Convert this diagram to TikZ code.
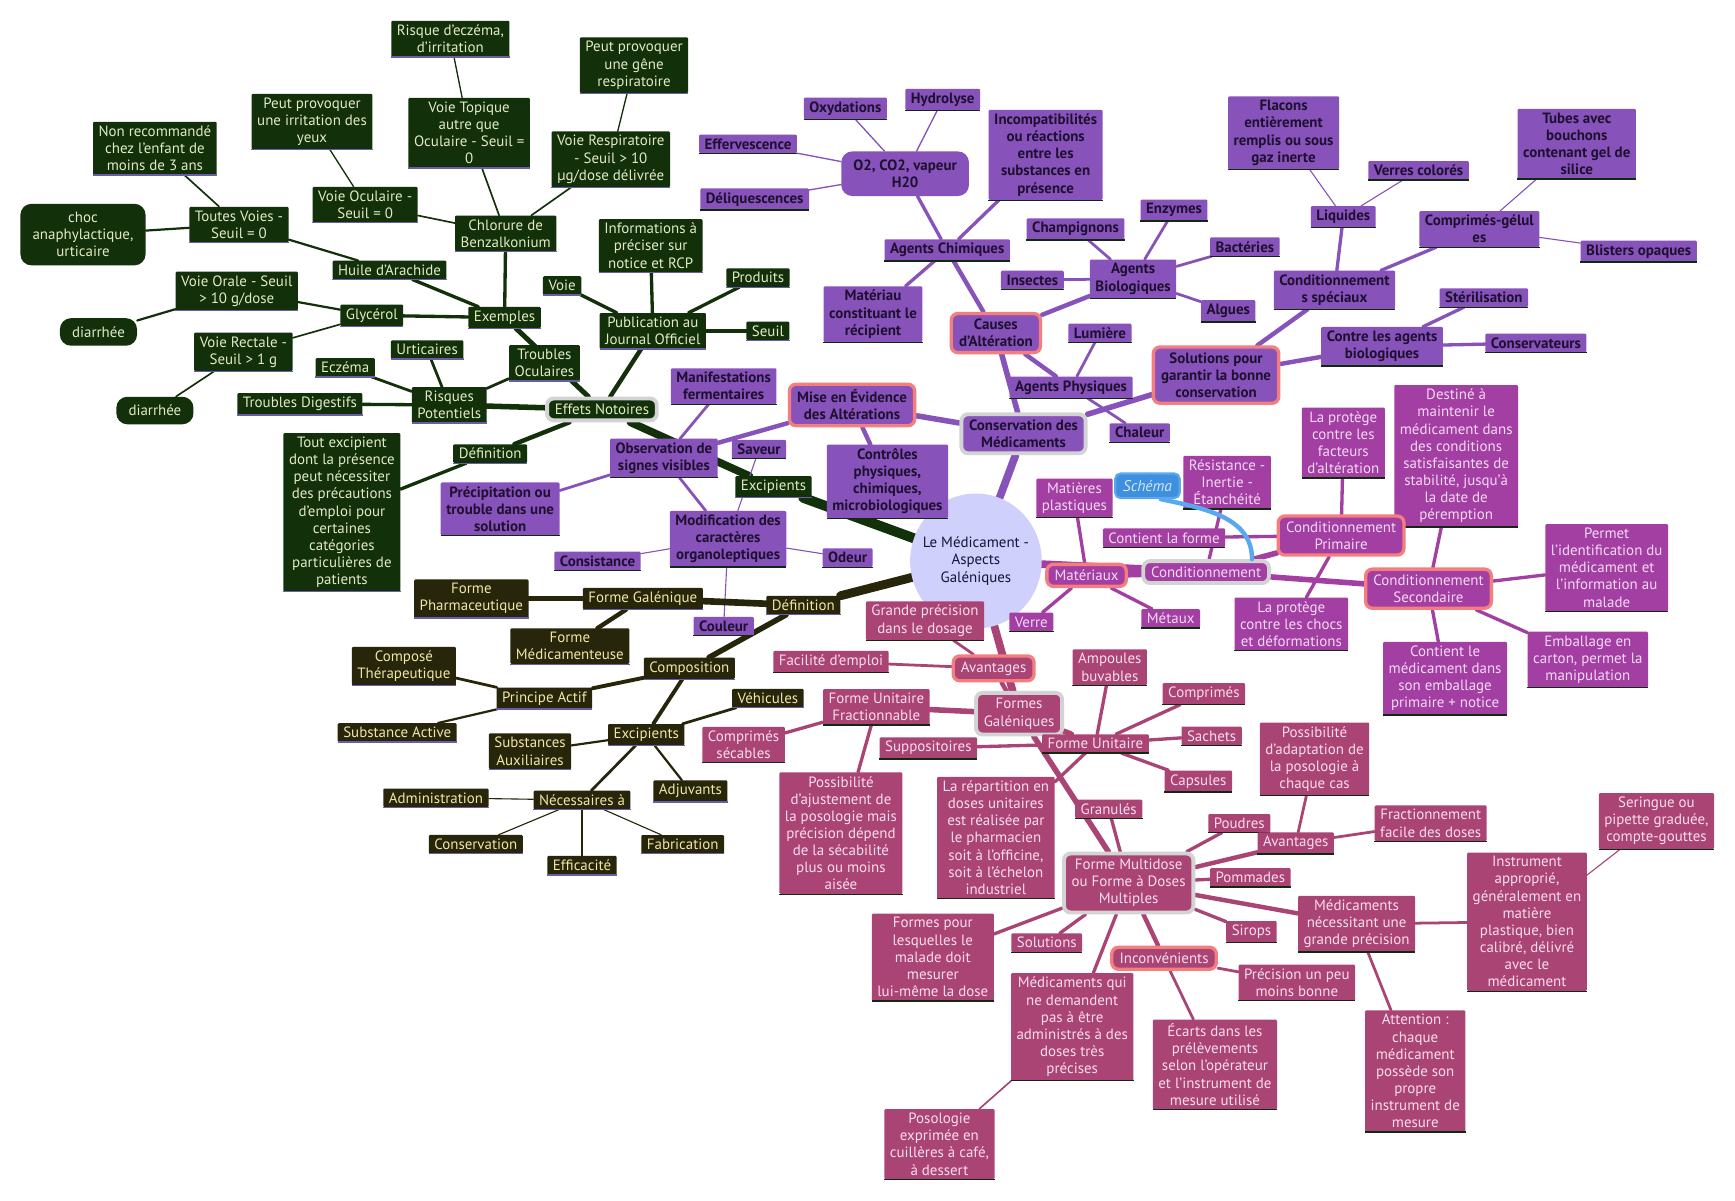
\documentclass[tikz,border=0pt]{standalone}
\usepackage{fontspec}
\setmainfont{PT Sans}
\usepackage{xcolor}
\usepackage{tikz}
\usetikzlibrary{shapes.geometric, backgrounds}
\definecolor{greenfill}{HTML}{12300A}
\definecolor{greentext}{HTML}{E2EAC4}
\definecolor{olivefill}{HTML}{27250A}
\definecolor{olivetext}{HTML}{F0E6A6}
\definecolor{purplefill}{HTML}{8753BA}
\definecolor{purpletext}{HTML}{1E1030}
\definecolor{magentafill}{HTML}{A33EA2}
\definecolor{magentatext}{HTML}{F4DAF4}
\definecolor{raspfill}{HTML}{AA4474}
\definecolor{rasptext}{HTML}{FADDEB}
\definecolor{rootfill}{HTML}{CFD0FB}
\definecolor{roottext}{HTML}{15153A}
\definecolor{salmon}{HTML}{F47E7E}
\definecolor{framegray}{HTML}{D3D3D3}
\definecolor{schemablue}{HTML}{3E8FDD}
\definecolor{schemaedge}{HTML}{5AA8EE}
\definecolor{schematext}{HTML}{D2E6FA}
\definecolor{lavshadow}{HTML}{6A5CA8}
\definecolor{darkshadow}{HTML}{102A10}

\begin{document}
\begin{tikzpicture}[
    x=1pt, y=-1pt,
    font=\fontsize{13.5}{15.5}\selectfont,
    idea/.style={rectangle, rounded corners=1pt, align=center, inner xsep=5pt, inner ysep=3.5pt},
    underline/.style={append after command={\pgfextra{\let\ulnode\tikzlastnode}
        (\ulnode.south west) edge[draw=#1, line width=1.2pt] (\ulnode.south east)}},
    cgreen/.style={idea, fill=greenfill, text=greentext},
    colive/.style={idea, fill=olivefill, text=olivetext},
    cpurple/.style={idea, fill=purplefill, text=purpletext, font=\fontsize{13.5}{15.5}\selectfont\bfseries},
    cmagenta/.style={idea, fill=magentafill, text=magentatext},
    crasp/.style={idea, fill=raspfill, text=rasptext},
    exgreen/.style={cgreen, underline=lavshadow},
    exolive/.style={colive, underline=lavshadow},
    expurple/.style={cpurple, underline=darkshadow},
    exmagenta/.style={cmagenta, underline=darkshadow},
    exrasp/.style={crasp, underline=darkshadow},
    pill/.style={rounded corners=10pt, inner xsep=11pt, inner ysep=7.5pt},
    hot/.style={draw=salmon, line width=3pt, rounded corners=6pt, inner xsep=7pt, inner ysep=5pt},
    major/.style={draw=framegray, line width=3.5pt, rounded corners=6pt, inner xsep=7pt, inner ysep=5pt},
    rootnode/.style={ellipse, fill=rootfill, text=roottext, align=center, inner xsep=-6pt, inner ysep=0pt,
                     minimum width=0pt, minimum height=122pt},
    schemanote/.style={rectangle, rounded corners=5pt, fill=schemablue, draw=schemaedge,
                       line width=2pt, text=schematext, font=\fontsize{14}{16}\selectfont\itshape,
                       inner xsep=7pt, inner ysep=6pt},
    branch/.style={line width=#1pt, line cap=round},
    gline/.style={draw=greenfill},
    oline/.style={draw=olivefill},
    pline/.style={draw=purplefill},
    mline/.style={draw=magentafill},
    rline/.style={draw=raspfill}
  ]
    \useasboundingbox (0,0) rectangle (1568,1085);

    \node[rootnode] (root) at (882,507) {Le Médicament -\\Aspects\\Galéniques};

    % Excipients -- effets notoires
    \node[exgreen] (risk)      at (407,35)  {Risque d'eczéma,\\d'irritation};
    \node[exgreen] (gene)      at (573,59)  {Peut provoquer\\une gêne\\respiratoire};
    \node[exgreen] (irrit)     at (282,110) {Peut provoquer\\une irritation des\\yeux};
    \node[exgreen] (topique)   at (424,120) {Voie Topique\\autre que\\Oculaire - Seuil =\\0};
    \node[exgreen] (respi)     at (552,144) {Voie Respiratoire\\- Seuil > 10\\µg/dose délivrée};
    \node[exgreen] (nonrec)    at (140,134) {Non recommandé\\chez l'enfant de\\moins de 3 ans};
    \node[exgreen] (oculaire)  at (330,185) {Voie Oculaire -\\Seuil = 0};
    \node[exgreen] (chlorure)  at (457,211) {Chlorure de\\Benzalkonium};
    \node[cgreen, pill] (choc) at (75,212)  {choc\\anaphylactique,\\urticaire};
    \node[exgreen] (toutes)    at (216,203) {Toutes Voies -\\Seuil = 0};
    \node[exgreen] (infos)     at (588,222) {Informations à\\préciser sur\\notice et RCP};
    \node[exgreen] (huile)     at (352,244) {Huile d'Arachide};
    \node[exgreen] (voie)      at (508,258) {Voie};
    \node[exgreen] (produits)  at (685,251) {Produits};
    \node[exgreen] (orale)     at (214,263) {Voie Orale - Seuil\\> 10 g/dose};
    \node[exgreen] (glycerol)  at (336,285) {Glycérol};
    \node[exgreen] (exemples)  at (456,287) {Exemples};
    \node[exgreen] (publi)     at (590,299) {Publication au\\Journal Officiel};
    \node[exgreen] (seuil)     at (694,299) {Seuil};
    \node[cgreen, pill] (diarA) at (89,300) {diarrhée};
    \node[exgreen] (rectale)   at (220,318) {Voie Rectale -\\Seuil > 1 g};
    \node[exgreen] (urticaires) at (386,316) {Urticaires};
    \node[exgreen] (troubOc)   at (492,328) {Troubles\\Oculaires};
    \node[exgreen] (eczema)    at (312,332) {Eczéma};
    \node[exgreen] (risques)   at (406,366) {Risques\\Potentiels};
    \node[exgreen] (troubDig)  at (271,365) {Troubles Digestifs};
    \node[cgreen, pill] (diarB) at (140,371) {diarrhée};
    \node[cgreen, major] (effets) at (544,370) {Effets Notoires};
    \node[exgreen] (defEx)     at (443,410) {Définition};
    \node[exgreen] (toutExc)   at (309,463) {Tout excipient\\dont la présence\\peut nécessiter\\des précautions\\d'emploi pour\\certaines\\catégories\\particulières de\\patients};
    \node[exgreen] (excVert)   at (699,440) {Excipients};

    % Conservation des medicaments
    \node[expurple] (oxyd)      at (764,98)  {Oxydations};
    \node[expurple] (hydro)     at (852,90)  {Hydrolyse};
    \node[expurple] (efferv)    at (676,130) {Effervescence};
    \node[cpurple, pill] (otwo) at (818,157) {O2, CO2, vapeur\\H20};
    \node[expurple] (incompat)  at (945,140) {Incompatibilités\\ou réactions\\entre les\\substances en\\présence};
    \node[expurple] (deliq)     at (682,180) {Déliquescences};
    \node[expurple] (chimiques) at (856,226) {Agents Chimiques};
    \node[expurple] (champ)     at (972,207) {Champignons};
    \node[expurple] (enzymes)   at (1061,190) {Enzymes};
    \node[expurple] (flacons)   at (1160,120) {Flacons\\entièrement\\remplis ou sous\\gaz inerte};
    \node[expurple] (verresCol) at (1282,154) {Verres colorés};
    \node[expurple] (tubes)     at (1425,130) {Tubes avec\\bouchons\\contenant gel de\\silice};
    \node[expurple] (liquides)  at (1214,196) {Liquides};
    \node[expurple] (comprGel)  at (1337,207) {Comprimés-gélul\\es};
    \node[expurple] (blisters)  at (1481,227) {Blisters opaques};
    \node[expurple] (bacteries) at (1125,223) {Bactéries};
    \node[expurple] (insectes)  at (933,253) {Insectes};
    \node[expurple] (bio)       at (1024,252) {Agents\\Biologiques};
    \node[expurple] (condSpec)  at (1206,262) {Conditionnement\\s spéciaux};
    \node[expurple] (materiau)  at (789,284) {Matériau\\constituant le\\récipient};
    \node[expurple] (algues)    at (1110,281) {Algues};
    \node[expurple] (steril)    at (1341,269) {Stérilisation};
    \node[cpurple, hot] (causes) at (900,301) {Causes\\d'Altération};
    \node[expurple] (lumiere)   at (994,301) {Lumière};
    \node[expurple] (contre)    at (1249,313) {Contre les agents\\biologiques};
    \node[expurple] (conservateurs) at (1388,310) {Conservateurs};
    \node[cpurple, hot] (solutions) at (1099,339) {Solutions pour\\garantir la bonne\\conservation};
    \node[expurple] (manif)     at (654,349) {Manifestations\\fermentaires};
    \node[cpurple, hot] (mise)  at (770,366) {Mise en Évidence\\des Altérations};
    \node[expurple] (physiques) at (968,350) {Agents Physiques};
    \node[expurple] (chaleur)   at (1030,391) {Chaleur};
    \node[cpurple, major] (conservation) at (925,392) {Conservation des\\Médicaments};
    \node[expurple] (saveur)    at (686,406) {Saveur};
    \node[expurple] (observation) at (600,414) {Observation de\\signes visibles};
    \node[expurple] (controles) at (802,435) {Contrôles\\physiques,\\chimiques,\\microbiologiques};
    \node[expurple] (precip)    at (452,460) {Précipitation ou\\trouble dans une\\solution};
    \node[expurple] (modif)     at (658,487) {Modification des\\caractères\\organoleptiques};
    \node[expurple] (consist)   at (540,507) {Consistance};
    \node[expurple] (odeur)     at (766,504) {Odeur};
    \node[expurple] (couleur)   at (654,566) {Couleur};

    % Definition
    \node[exolive] (formePharma) at (426,541) {Forme\\Pharmaceutique};
    \node[exolive] (formeGal)    at (581,541) {Forme Galénique};
    \node[exolive] (defOl)       at (726,547) {Définition};
    \node[exolive] (formeMed)    at (515,584) {Forme\\Médicamenteuse};
    \node[exolive] (compose)     at (365,602) {Composé\\Thérapeutique};
    \node[exolive] (composition) at (623,604) {Composition};
    \node[exolive] (principe)    at (492,631) {Principe Actif};
    \node[exolive] (vehicules)   at (694,631) {Véhicules};
    \node[exolive] (substAct)    at (359,662) {Substance Active};
    \node[exolive] (excOl)       at (584,664) {Excipients};
    \node[exolive] (substAux)    at (479,679) {Substances\\Auxiliaires};
    \node[exolive] (adjuvants)   at (624,715) {Adjuvants};
    \node[exolive] (admin)       at (394,721) {Administration};
    \node[exolive] (necess)      at (526,723) {Nécessaires à};
    \node[exolive] (conserv)     at (430,763) {Conservation};
    \node[exolive] (fabric)      at (617,763) {Fabrication};
    \node[exolive] (effic)       at (526,782) {Efficacité};

    % Conditionnement
    \node[exmagenta] (protFact)   at (1214,400) {La protège\\contre les\\facteurs\\d'altération};
    \node[exmagenta] (destine)    at (1316,412) {Destiné à\\maintenir le\\médicament dans\\des conditions\\satisfaisantes de\\stabilité, jusqu'à\\la date de\\péremption};
    \node[exmagenta] (resistance) at (1109,436) {Résistance -\\Inertie -\\Étanchéité};
    \node[exmagenta] (plastiques) at (971,450) {Matières\\plastiques};
    \node[exmagenta] (contient)   at (1052,486) {Contient la forme};
    \node[cmagenta, hot] (primaire) at (1212,484) {Conditionnement\\Primaire};
    \node[exmagenta] (permet)     at (1452,513) {Permet\\l'identification du\\médicament et\\l'information au\\malade};
    \node[cmagenta, hot] (materiaux) at (982,520) {Matériaux};
    \node[cmagenta, major] (conditionnement) at (1090,517) {Conditionnement};
    \node[cmagenta, hot] (secondaire) at (1291,532) {Conditionnement\\Secondaire};
    \node[exmagenta] (protChocs)  at (1167,564) {La protège\\contre les chocs\\et déformations};
    \node[exmagenta] (verre)      at (932,562) {Verre};
    \node[exmagenta] (metaux)     at (1058,559) {Métaux};
    \node[exmagenta] (emballage)  at (1435,596) {Emballage en\\carton, permet la\\manipulation};
    \node[exmagenta] (contientMed) at (1306,613) {Contient le\\médicament dans\\son emballage\\primaire + notice};
    \node[schemanote] (schema)    at (1037,439) {Schéma};

    % Formes galeniques
    \node[exrasp] (grande)        at (836,561) {Grande précision\\dans le dosage};
    \node[exrasp] (facilite)      at (751,598) {Facilité d'emploi};
    \node[crasp, hot] (avantagesA) at (898,604) {Avantages};
    \node[exrasp] (ampoules)      at (1003,603) {Ampoules\\buvables};
    \node[exrasp] (comprimes)     at (1088,627) {Comprimés};
    \node[exrasp] (fractionnable) at (792,639) {Forme Unitaire\\Fractionnable};
    \node[crasp, major] (formesGal) at (921,645) {Formes\\Galéniques};
    \node[exrasp] (secables)      at (672,673) {Comprimés\\sécables};
    \node[exrasp] (sachets)       at (1095,665) {Sachets};
    \node[exrasp] (suppos)        at (839,676) {Suppositoires};
    \node[exrasp] (unitaire)      at (990,672) {Forme Unitaire};
    \node[exrasp] (capsules)      at (1083,706) {Capsules};
    \node[exrasp] (ajustement)    at (760,753) {Possibilité\\d'ajustement de\\la posologie mais\\précision dépend\\de la sécabilité\\plus ou moins\\aisée};
    \node[exrasp] (repartition)   at (900,757) {La répartition en\\doses unitaires\\est réalisée par\\le pharmacien\\soit à l'officine,\\soit à l'échelon\\industriel};
    \node[exrasp] (granules)      at (1002,731) {Granulés};
    \node[exrasp] (adaptation)    at (1188,686) {Possibilité\\d'adaptation de\\la posologie à\\chaque cas};
    \node[exrasp] (poudres)       at (1120,744) {Poudres};
    \node[exrasp] (fractFacile)   at (1293,744) {Fractionnement\\facile des doses};
    \node[exrasp] (seringue)      at (1497,742) {Seringue ou\\pipette graduée,\\compte-gouttes};
    \node[exrasp] (avantagesB)    at (1171,762) {Avantages};
    \node[crasp, major] (multidose) at (1020,798) {Forme Multidose\\ou Forme à Doses\\Multiples};
    \node[exrasp] (pommades)      at (1130,793) {Pommades};
    \node[exrasp] (instrument)    at (1380,833) {Instrument\\approprié,\\généralement en\\matière\\plastique, bien\\calibré, délivré\\avec le\\médicament};
    \node[exrasp] (medsPrec)      at (1226,835) {Médicaments\\nécessitant une\\grande précision};
    \node[exrasp] (formesPour)    at (843,865) {Formes pour\\lesquelles le\\malade doit\\mesurer\\lui-même la dose};
    \node[exrasp] (solutionsR)    at (946,852) {Solutions};
    \node[exrasp] (sirops)        at (1131,842) {Sirops};
    \node[crasp, hot] (inconv)    at (1052,866) {Inconvénients};
    \node[exrasp] (precision)     at (1172,888) {Précision un peu\\moins bonne};
    \node[exrasp] (medsQui)       at (969,928) {Médicaments qui\\ne demandent\\pas à être\\administrés à des\\doses très\\précises};
    \node[exrasp] (ecarts)        at (1098,962) {Écarts dans les\\prélèvements\\selon l'opérateur\\et l'instrument de\\mesure utilisé};
    \node[exrasp] (attention)     at (1279,968) {Attention :\\chaque\\médicament\\possède son\\propre\\instrument de\\mesure};
    \node[exrasp] (posologie)     at (849,1034) {Posologie\\exprimée en\\cuillères à café,\\à dessert};

    \draw[schemaedge, line width=4pt, line cap=round]
      ([xshift=-18pt]schema.south east) to[out=-12, in=90] ([xshift=-17pt]conditionnement.north east);

    \begin{scope}[on background layer]
    \fill[white] (0,0) rectangle (1568,1085);

    \draw[gline, branch=9] (root) -- (excVert);
    \draw[gline, branch=7] (excVert) -- (effets);
    \draw[gline, branch=4.5] (effets) -- (exemples);
    \draw[gline, branch=5] (effets) -- (risques);
    \draw[gline, branch=4] (effets) -- (defEx);
    \draw[gline, branch=4] (effets) -- (publi);
    \draw[gline, branch=3] (exemples) -- (chlorure);
    \draw[gline, branch=3] (exemples) -- (huile);
    \draw[gline, branch=3] (exemples) -- (glycerol);
    \draw[gline, branch=1.5] (chlorure) -- (oculaire);
    \draw[gline, branch=1.5] (chlorure) -- (topique);
    \draw[gline, branch=1.5] (chlorure) -- (respi);
    \draw[gline, branch=1.2] (topique) -- (risk);
    \draw[gline, branch=1.2] (oculaire) -- (irrit);
    \draw[gline, branch=1.2] (respi) -- (gene);
    \draw[gline, branch=2] (huile) -- (toutes);
    \draw[gline, branch=2] (toutes) -- (choc);
    \draw[gline, branch=1.5] (toutes) -- (nonrec);
    \draw[gline, branch=2] (glycerol) -- (orale);
    \draw[gline, branch=1.5] (glycerol) -- (rectale);
    \draw[gline, branch=2] (orale) -- (diarA);
    \draw[gline, branch=1.5] (rectale) -- (diarB);
    \draw[gline, branch=2.5] (risques) -- (urticaires);
    \draw[gline, branch=2.5] (risques) -- (eczema);
    \draw[gline, branch=3] (risques) -- (troubDig);
    \draw[gline, branch=2.5] (risques) -- (troubOc);
    \draw[gline, branch=3] (defEx) -- (toutExc);
    \draw[gline, branch=3] (publi) -- (voie);
    \draw[gline, branch=3] (publi) -- (infos);
    \draw[gline, branch=3] (publi) -- (produits);
    \draw[gline, branch=3] (publi) -- (seuil);

    \draw[pline, branch=7] (root) -- (conservation);
    \draw[pline, branch=5] (conservation) -- (causes);
    \draw[pline, branch=5] (conservation) -- (mise);
    \draw[pline, branch=5] (conservation) -- (solutions);
    \draw[pline, branch=4] (causes) -- (chimiques);
    \draw[pline, branch=4] (causes) -- (bio);
    \draw[pline, branch=4] (causes) -- (physiques);
    \draw[pline, branch=3] (chimiques) -- (otwo);
    \draw[pline, branch=3] (chimiques) -- (incompat);
    \draw[pline, branch=3] (chimiques) -- (materiau);
    \draw[pline, branch=1.2] (otwo) -- (oxyd);
    \draw[pline, branch=1.2] (otwo) -- (hydro);
    \draw[pline, branch=1.2] (otwo) -- (efferv);
    \draw[pline, branch=1.2] (otwo) -- (deliq);
    \draw[pline, branch=2.5] (bio) -- (champ);
    \draw[pline, branch=2.5] (bio) -- (enzymes);
    \draw[pline, branch=2.5] (bio) -- (bacteries);
    \draw[pline, branch=2.5] (bio) -- (insectes);
    \draw[pline, branch=2.5] (bio) -- (algues);
    \draw[pline, branch=2.5] (physiques) -- (lumiere);
    \draw[pline, branch=2.5] (physiques) -- (chaleur);
    \draw[pline, branch=4] (solutions) -- (condSpec);
    \draw[pline, branch=4] (solutions) -- (contre);
    \draw[pline, branch=3] (condSpec) -- (liquides);
    \draw[pline, branch=3] (condSpec) -- (comprGel);
    \draw[pline, branch=1] (liquides) -- (flacons);
    \draw[pline, branch=1] (liquides) -- (verresCol);
    \draw[pline, branch=1] (comprGel) -- (tubes);
    \draw[pline, branch=1] (comprGel) -- (blisters);
    \draw[pline, branch=3] (contre) -- (steril);
    \draw[pline, branch=3] (contre) -- (conservateurs);
    \draw[pline, branch=4] (mise) -- (observation);
    \draw[pline, branch=4] (mise) -- (controles);
    \draw[pline, branch=2.5] (observation) -- (manif);
    \draw[pline, branch=2.5] (observation) -- (precip);
    \draw[pline, branch=2.5] (observation) -- (modif);
    \draw[pline, branch=1] (modif) -- (saveur);
    \draw[pline, branch=1] (modif) -- (consist);
    \draw[pline, branch=1] (modif) -- (odeur);
    \draw[pline, branch=1] (modif) -- (couleur);

    \draw[oline, branch=8] (root) -- (defOl);
    \draw[oline, branch=6] (defOl) -- (formeGal);
    \draw[oline, branch=5] (defOl) -- (composition);
    \draw[oline, branch=4] (formeGal) -- (formePharma);
    \draw[oline, branch=4] (formeGal) -- (formeMed);
    \draw[oline, branch=3.5] (composition) -- (principe);
    \draw[oline, branch=3.5] (composition) -- (excOl);
    \draw[oline, branch=2.5] (principe) -- (compose);
    \draw[oline, branch=2] (principe) -- (substAct);
    \draw[oline, branch=2.5] (excOl) -- (vehicules);
    \draw[oline, branch=2] (excOl) -- (substAux);
    \draw[oline, branch=2] (excOl) -- (adjuvants);
    \draw[oline, branch=2.5] (excOl) -- (necess);
    \draw[oline, branch=1] (necess) -- (admin);
    \draw[oline, branch=1] (necess) -- (conserv);
    \draw[oline, branch=1] (necess) -- (effic);
    \draw[oline, branch=1] (necess) -- (fabric);

    \draw[mline, branch=7] (root) -- (conditionnement);
    \draw[mline, branch=6] (conditionnement) -- (materiaux);
    \draw[mline, branch=5] (conditionnement) -- (primaire);
    \draw[mline, branch=5] (conditionnement) -- (secondaire);
    \draw[mline, branch=3] (conditionnement) -- (resistance);
    \draw[mline, branch=3] (primaire) -- (contient);
    \draw[mline, branch=3] (primaire) -- (protFact);
    \draw[mline, branch=3] (primaire) -- (protChocs);
    \draw[mline, branch=3] (materiaux) -- (plastiques);
    \draw[mline, branch=3] (materiaux) -- (verre);
    \draw[mline, branch=3] (materiaux) -- (metaux);
    \draw[mline, branch=3] (secondaire) -- (destine);
    \draw[mline, branch=3] (secondaire) -- (permet);
    \draw[mline, branch=3] (secondaire) -- (emballage);
    \draw[mline, branch=3] (secondaire) -- (contientMed);

    \draw[rline, branch=7] (root) -- (formesGal);
    \draw[rline, branch=4] (formesGal) -- (avantagesA);
    \draw[rline, branch=2.5] (avantagesA) -- (grande);
    \draw[rline, branch=2.5] (avantagesA) -- (facilite);
    \draw[rline, branch=5] (formesGal) -- (fractionnable);
    \draw[rline, branch=5] (formesGal) -- (unitaire);
    \draw[rline, branch=5] (formesGal) -- (multidose);
    \draw[rline, branch=3] (fractionnable) -- (secables);
    \draw[rline, branch=3] (fractionnable) -- (ajustement);
    \draw[rline, branch=3] (unitaire) -- (ampoules);
    \draw[rline, branch=3] (unitaire) -- (comprimes);
    \draw[rline, branch=3] (unitaire) -- (sachets);
    \draw[rline, branch=3] (unitaire) -- (capsules);
    \draw[rline, branch=3] (unitaire) -- (suppos);
    \draw[rline, branch=3] (unitaire) -- (repartition);
    \draw[rline, branch=3] (multidose) -- (granules);
    \draw[rline, branch=3] (multidose) -- (poudres);
    \draw[rline, branch=4] (multidose) -- (avantagesB);
    \draw[rline, branch=3] (multidose) -- (pommades);
    \draw[rline, branch=4] (multidose) -- (medsPrec);
    \draw[rline, branch=3] (multidose) -- (sirops);
    \draw[rline, branch=4] (multidose) -- (inconv);
    \draw[rline, branch=3] (multidose) -- (solutionsR);
    \draw[rline, branch=3] (multidose) -- (formesPour);
    \draw[rline, branch=3] (multidose) -- (medsQui);
    \draw[rline, branch=2.5] (avantagesB) -- (adaptation);
    \draw[rline, branch=2.5] (avantagesB) -- (fractFacile);
    \draw[rline, branch=2.5] (medsPrec) -- (instrument);
    \draw[rline, branch=2.5] (medsPrec) -- (attention);
    \draw[rline, branch=1] (instrument) -- (seringue);
    \draw[rline, branch=2.5] (inconv) -- (precision);
    \draw[rline, branch=2.5] (inconv) -- (ecarts);
    \draw[rline, branch=1.5] (medsQui) -- (posologie);
    \end{scope}
\end{tikzpicture}
\end{document}
